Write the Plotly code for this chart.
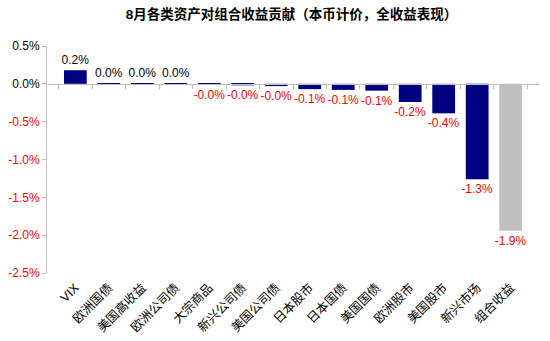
import plotly.graph_objects as go

categories = ["VIX", "欧洲国债", "美国高收益", "欧洲公司债", "大宗商品", "新兴公司债", "美国公司债",
              "日本股市", "日本国债", "美国国债", "欧洲股市", "美国股市", "新兴市场", "组合收益"]
values = [0.18, 0.01, 0.005, 0.002, -0.003, -0.02, -0.03, -0.07, -0.08, -0.09, -0.24, -0.39, -1.26, -1.94]
y_ticks = [0.5, 0.0, -0.5, -1.0, -1.5, -2.0, -2.5]

FONT = "Liberation Sans, Arial, Noto Sans CJK SC"
colors = ["#000080"] * (len(categories) - 1) + ["#BFBFBF"]
text_colors = ["#000000" if v >= 0 else "#FF0000" for v in values]
texts = [f"{v:.1f}%" if v >= 0 else f"-{abs(v):.1f}%" for v in values]

ticktext = []
for t in y_ticks:
    s = f"{t:.1f}%"
    if t < 0:
        ticktext.append(f'<span style="color:#FF0000">{s}</span>')
    else:
        ticktext.append(s)

fig = go.Figure()
fig.add_trace(go.Bar(
    x=categories, y=values, marker=dict(color=colors, line=dict(width=0)),
    text=texts, textposition="outside", textfont=dict(color=text_colors, size=12, family=FONT),
    constraintext="none", cliponaxis=False, width=0.68,
))
# axis at zero with boundary ticks
fig.add_trace(go.Scatter(x=categories, y=[None] * len(categories), xaxis="x2", showlegend=False))

fig.update_layout(
    width=550, height=341,
    margin=dict(l=47, r=11, t=46, b=68, autoexpand=False),
    paper_bgcolor="white", plot_bgcolor="white",
    showlegend=False,
    title=dict(text="<b>8月各类资产对组合收益贡献（本币计价，全收益表现）</b>",
               x=0.53, xanchor="center", y=0.957, yanchor="middle",
               font=dict(size=13.5, color="#000000", family=FONT)),
    font=dict(family=FONT, size=12, color="#000000"),
    xaxis=dict(type="category", tickangle=-45, showline=False, ticks="",
               ticklabelstandoff=4, automargin=False,
               tickfont=dict(size=12.5, color="#000000", family=FONT), showgrid=False),
    xaxis2=dict(type="category", overlaying="x", anchor="free", position=2.5 / 3.0,
                showline=True, linecolor="#BFBFBF", linewidth=1, ticks="outside",
                ticklen=4, tickcolor="#BFBFBF", tickson="boundaries", showticklabels=False,
                showgrid=False, matches="x", automargin=False),
    yaxis=dict(range=[-2.5, 0.5], tickvals=y_ticks, ticktext=ticktext, automargin=False,
               showline=True, linecolor="#BFBFBF", linewidth=1, ticks="outside",
               ticklen=4, tickcolor="#BFBFBF", showgrid=False, zeroline=False,
               tickfont=dict(size=12, color="#000000", family=FONT)),
)

fig.write_html("out.html")
